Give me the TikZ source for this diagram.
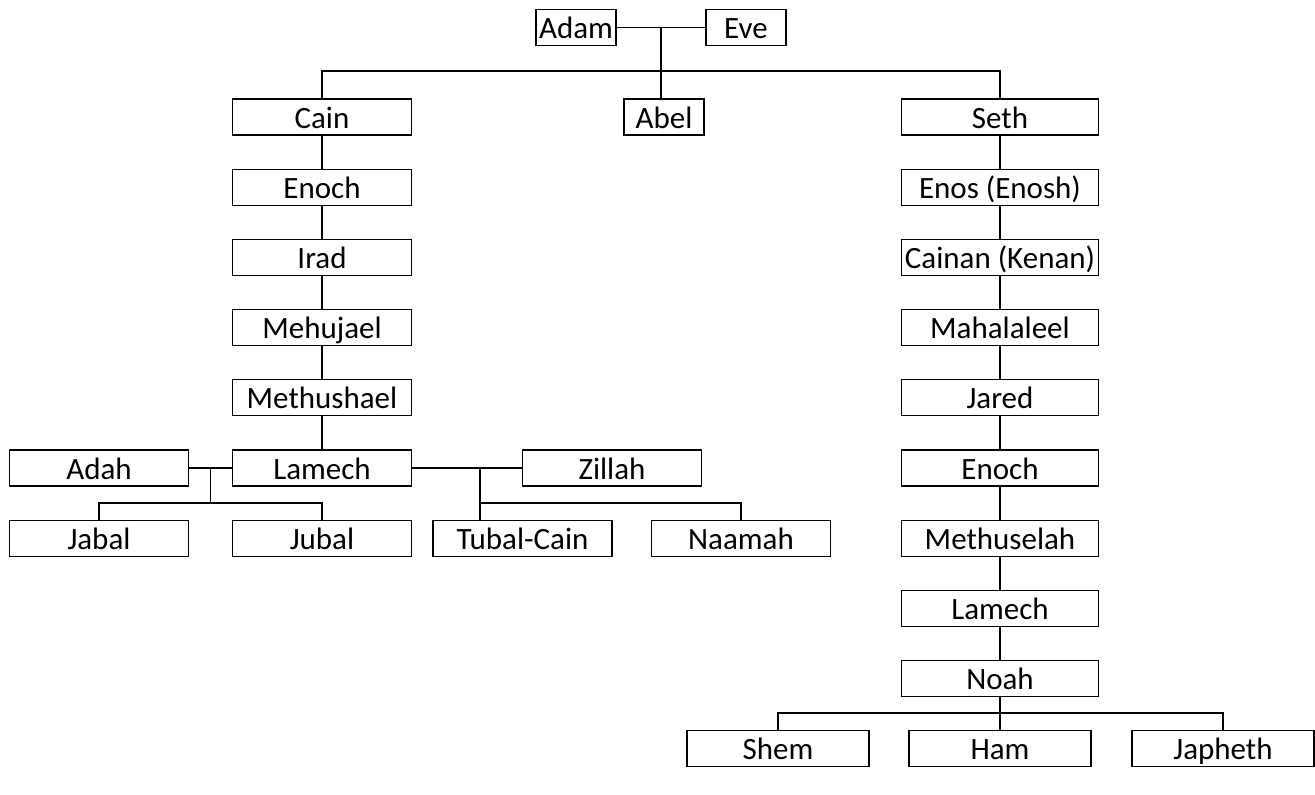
\documentclass[tikz,border=0pt]{standalone}
\usepackage{fontspec}
\setmainfont{Carlito}
\usepackage{tikz}

\begin{document}
\begin{tikzpicture}[x=1pt, y=1pt, node distance={70.2pt}, line width=1.3pt,
    main/.style = {draw, rectangle, minimum width=179pt, minimum height=36pt, inner sep=0pt, outer sep=0pt,
        text height=27pt, text depth=5pt, font=\fontsize{31}{36}\selectfont},
    wide/.style = {main, minimum width=197pt},
    kid/.style = {main, minimum width=182pt},
    small/.style = {main, minimum width=80pt}]
    \useasboundingbox (0,0) rectangle (1315,-795);

    \node[small] (adam) at (576,-27.5) {Adam};
    \node[small] (eve) at (746,-27.5) {Eve};

    \node[main] (cain) at (322,-117) {Cain};
    \node[small] (abel) at (664,-117) {Abel};
    \node[wide] (seth) at (1000,-117) {Seth};

    % line of Cain
    \node[main] (enochc) [below of=cain] {Enoch};
    \node[main] (irad) [below of=enochc] {Irad};
    \node[main] (mehujael) [below of=irad] {Mehujael};
    \node[main] (methushael) [below of=mehujael] {Methushael};
    \node[main] (lamechc) [below of=methushael] {Lamech};
    \node[main] (adah) [left of=lamechc, node distance=223pt] {Adah};
    \node[main] (zillah) [right of=lamechc, node distance=290pt] {Zillah};
    \node[main] (jabal) [below of=adah] {Jabal};
    \node[main] (jubal) [below of=lamechc] {Jubal};
    \node[main] (tubal) at (522.5,-538.2) {Tubal-Cain};
    \node[main] (naamah) at (741,-538.2) {Naamah};

    % line of Seth
    \node[wide] (enos) [below of=seth] {Enos (Enosh)};
    \node[wide] (cainan) [below of=enos] {Cainan (Kenan)};
    \node[wide] (mahalaleel) [below of=cainan] {Mahalaleel};
    \node[wide] (jared) [below of=mahalaleel] {Jared};
    \node[wide] (enochs) [below of=jared] {Enoch};
    \node[wide] (methuselah) [below of=enochs] {Methuselah};
    \node[wide] (lamechs) [below of=methuselah] {Lamech};
    \node[wide] (noah) [below of=lamechs] {Noah};
    \node[kid] (ham) [below of=noah] {Ham};
    \node[kid] (shem) [left of=ham, node distance=222pt] {Shem};
    \node[kid] (japheth) [right of=ham, node distance=223pt] {Japheth};

    \coordinate (bus1) at (0,-71);
    \coordinate (bus2) at (0,-503);
    \coordinate (bus3) at (0,-713);
    \coordinate (lz) at (480,-468);

    \draw (adam) -- coordinate[midway] (ae) (eve);
    \draw (ae) -- (ae |- abel.north);
    \draw (cain.north) |- (ae |- bus1) -| (seth.north);

    \foreach \a/\b in {cain/enochc, enochc/irad, irad/mehujael, mehujael/methushael, methushael/lamechc,
        seth/enos, enos/cainan, cainan/mahalaleel, mahalaleel/jared, jared/enochs,
        enochs/methuselah, methuselah/lamechs, lamechs/noah, noah/ham}
        \draw (\a) -- (\b);

    \draw (adah) -- coordinate[midway] (al) (lamechc);
    \draw (al) -- (al |- bus2);
    \draw (jabal.north) |- (jubal.north |- bus2) -- (jubal.north);

    \draw (lamechc) -- (zillah);
    \draw (lz) -- (lz |- tubal.north);
    \draw (lz |- bus2) -| (naamah.north);

    \draw (shem.north) |- (japheth.north |- bus3) -- (japheth.north);
\end{tikzpicture}
\end{document}
